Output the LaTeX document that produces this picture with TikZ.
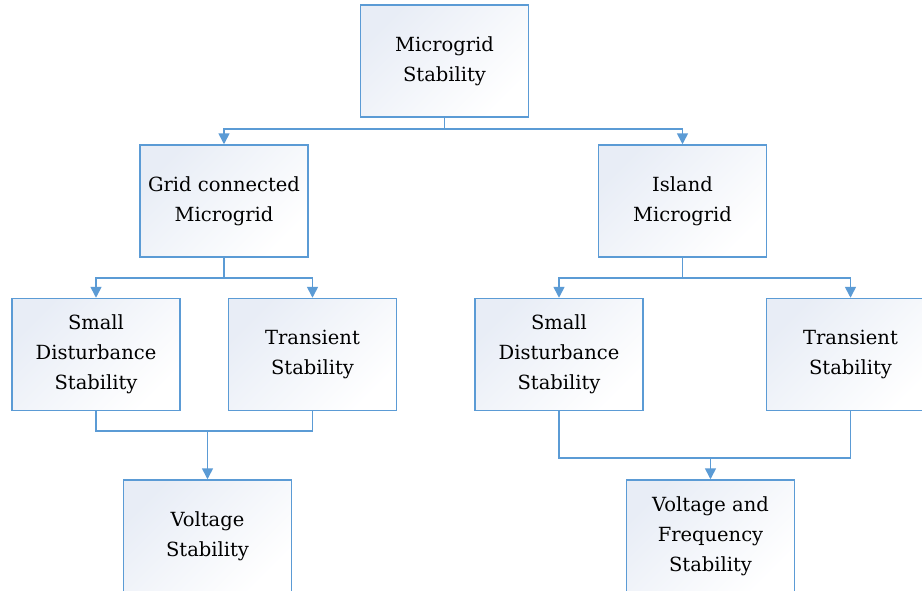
\documentclass[tikz,border=0pt]{standalone}
\usepackage{fontspec}
\setmainfont{DejaVu Serif}
\usetikzlibrary{arrows.meta}
\definecolor{lineblue}{HTML}{5B9BD5}
\definecolor{shadeblue}{HTML}{E8EDF6}
\tikzset{
  block/.style = {rectangle, draw=lineblue, line width=1.5pt,
                  top color=shadeblue, bottom color=white, shading angle=45,
                  minimum width=168pt, minimum height=112pt,
                  inner sep=0pt, align=center,
                  font=\fontsize{19.5}{30}\selectfont},
  plain/.style = {draw=lineblue, line width=1.6pt},
  link/.style  = {plain, -{Triangle[width=11pt,length=11pt]}}
}

\begin{document}
\begin{tikzpicture}[x=1pt,y=1pt]
	\def \gap{11}  % stem below the top box
	\def \drop{20} % stem below the second row
	
	\clip (0,0) rectangle (922,-590);
	\fill[white] (0,0) rectangle (922,-590);
	
	% Boxes
	\node[block] (top)    at (444.5,-61)  {Microgrid\\Stability};
	\node[block] (grid)   at (224,-201)   {Grid connected\\Microgrid};
	\node[block] (island) at (682.5,-201) {Island\\Microgrid};
	\node[block] (sdl)    at (96,-354.5)  {Small\\Disturbance\\Stability};
	\node[block] (trl)    at (312.5,-354.5) {Transient\\Stability};
	\node[block] (sdr)    at (559,-354.5) {Small\\Disturbance\\Stability};
	\node[block] (trr)    at (850.5,-354.5) {Transient\\Stability};
	\node[block] (volt)   at (207.5,-536) {Voltage\\Stability};
	\node[block] (freq)   at (710.5,-536) {Voltage and\\Frequency\\Stability};
	
	% Top level split
	\draw[link] (top.south) -- ++(0,-\gap) -| (grid.north);
	\draw[link] (top.south) -- ++(0,-\gap) -| (island.north);
	
	% Second level split
	\draw[link] (grid.south) -- ++(0,-\drop) -| (sdl.north);
	\draw[link] (grid.south) -- ++(0,-\drop) -| (trl.north);
	\draw[link] (island.south) -- ++(0,-\drop) -| (sdr.north);
	\draw[link] (island.south) -- ++(0,-\drop) -| (trr.north);
	
	% Joins
	\path (volt.north) ++(0,48) coordinate (jl);
	\path (freq.north) ++(0,21) coordinate (jr);
	\draw[plain] (sdl.south) |- (jl) -| (trl.south);
	\draw[link]  (jl) -- (volt.north);
	\draw[plain] (sdr.south) |- (jr) -| (trr.south);
	\draw[link]  (jr) -- (freq.north);
	
\end{tikzpicture}
\end{document}
